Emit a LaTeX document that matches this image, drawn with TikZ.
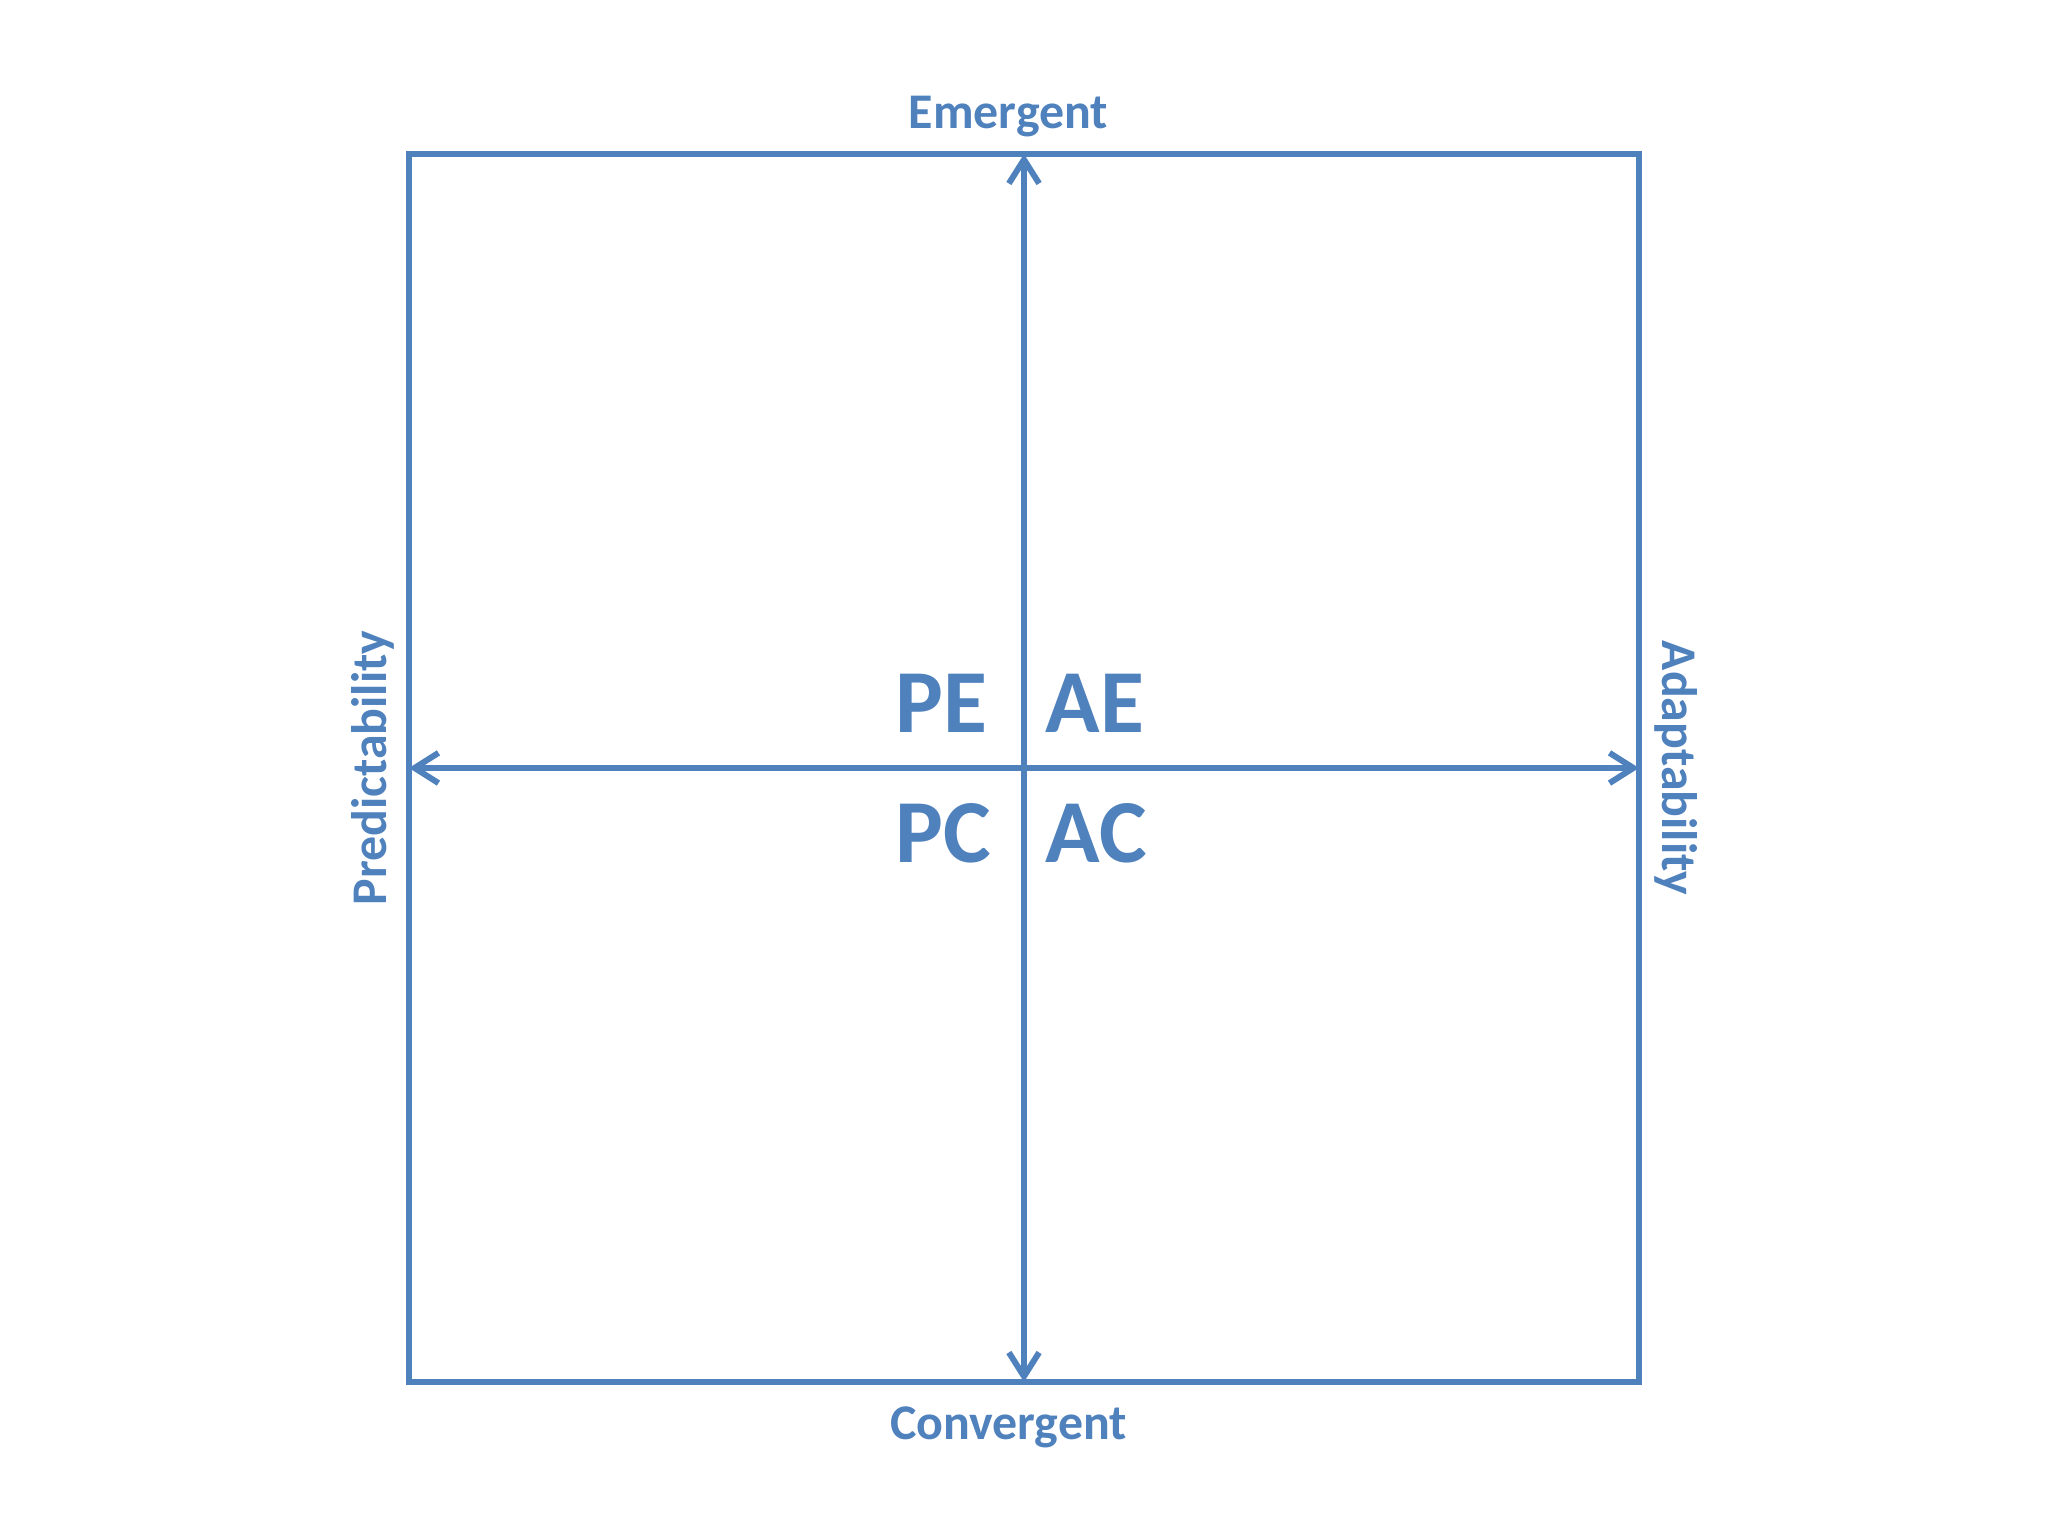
\documentclass[tikz,border=0pt]{standalone}
\usepackage{fontspec}
\setmainfont{Carlito}
\usetikzlibrary{arrows.meta}
\definecolor{xanh}{HTML}{4F81BD}
\begin{document}
\begin{tikzpicture}[
    line width=1.7pt,
    nhan/.style={text=xanh,font=\bfseries\fontsize{14.2}{17}\selectfont,anchor=base},
    onhan/.style={text=xanh,font=\bfseries\fontsize{25.6}{30}\selectfont,anchor=base west},
    truc/.style={draw=xanh,{Straight Barb[length=6.8pt,width=8.6pt]}-{Straight Barb[length=6.8pt,width=8.6pt]}},
]
\useasboundingbox (-10.24,-7.68) rectangle (10.24,7.68);
\node[draw=xanh,minimum width=12.3cm,minimum height=12.28cm,inner sep=0pt,outer sep=0pt] (O) at (0,0) {};
\draw[truc] (O.south)--(O.north); % <<< truc dung
\draw[truc] (O.west)--(O.east); % <<< truc ngang
\path
(-0.155,6.397) node[nhan] (E) {Emergent}
(-0.155,-6.72) node[nhan] (C) {Convergent}
(-6.373,0) node[nhan,rotate=90] (P) {Predictability}
(6.39,0) node[nhan,rotate=-90] (A) {Adaptability};
\path
(-1.43,0.35) node[onhan] (PE) {PE}
(-1.43,-0.95) node[onhan] (PC) {PC}
(0.07,0.35) node[onhan] (AE) {AE}
(0.07,-0.95) node[onhan] (AC) {AC};
\end{tikzpicture}
\end{document}
